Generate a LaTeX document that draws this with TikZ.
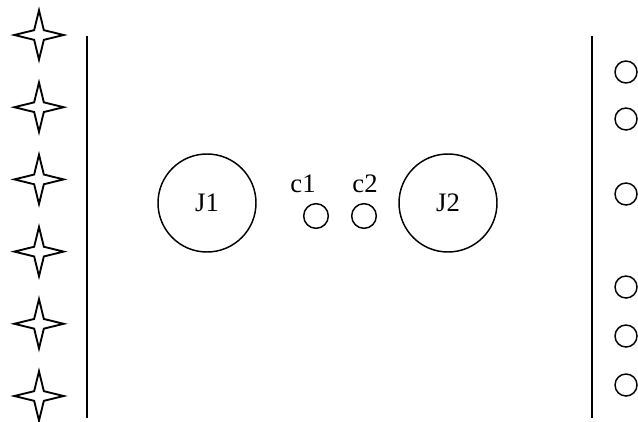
\documentclass[tikz,border=0pt]{standalone}
\usepackage{fontspec}
\setmainfont{Liberation Serif}
\usetikzlibrary{shapes.geometric}
\tikzset{
  spark/.style={
    star, star points=4, star point ratio=3.6, draw, line width=1.4pt,
    minimum size=37pt, inner sep=0pt
  },
  joint/.style={circle, draw, line width=1.1pt, minimum size=73.5pt, inner sep=0pt,
    font=\fontsize{20}{24}\selectfont},
  conn/.style={circle, draw, line width=1.1pt, minimum size=18.5pt, inner sep=0pt},
  port/.style={circle, draw, line width=1.1pt, minimum size=16.5pt, inner sep=0pt},
  tag/.style={font=\fontsize{20}{24}\selectfont, inner sep=0pt},
  bar/.style={line width=1.3pt},
}

\begin{document}
\begin{tikzpicture}[x=0.75pt, y=-0.75pt]
  \useasboundingbox (0,0) rectangle (638,421);

  % left column of stars
  \foreach \i in {0,...,5}
    \node[spark] (s\i) at (39, 35+72.2*\i) {};

  % the two walls
  \coordinate (lw top) at (87,36);
  \coordinate (lw bot) at (87,418);
  \coordinate (rw top) at (592,36);
  \coordinate (rw bot) at (592,418);
  \draw[bar] (lw top) -- (lw bot);
  \draw[bar] (rw top) -- (rw bot);

  % joints and connectors
  \node[joint] (J1) at (207,203) {J1};
  \node[joint] (J2) at (448,203) {J2};
  \node[conn] (c1) at (316,216) {};
  \node[conn] (c2) at (364,216) {};
  \node[tag] (c1 lbl) at (303,184) {c1};
  \node[tag] (c2 lbl) at (365,184) {c2};

  % right column of ports
  \foreach \y [count=\k] in {72,119,194,287,336,385}
    \node[port] (r\k) at (626,\y) {};
\end{tikzpicture}
\end{document}
